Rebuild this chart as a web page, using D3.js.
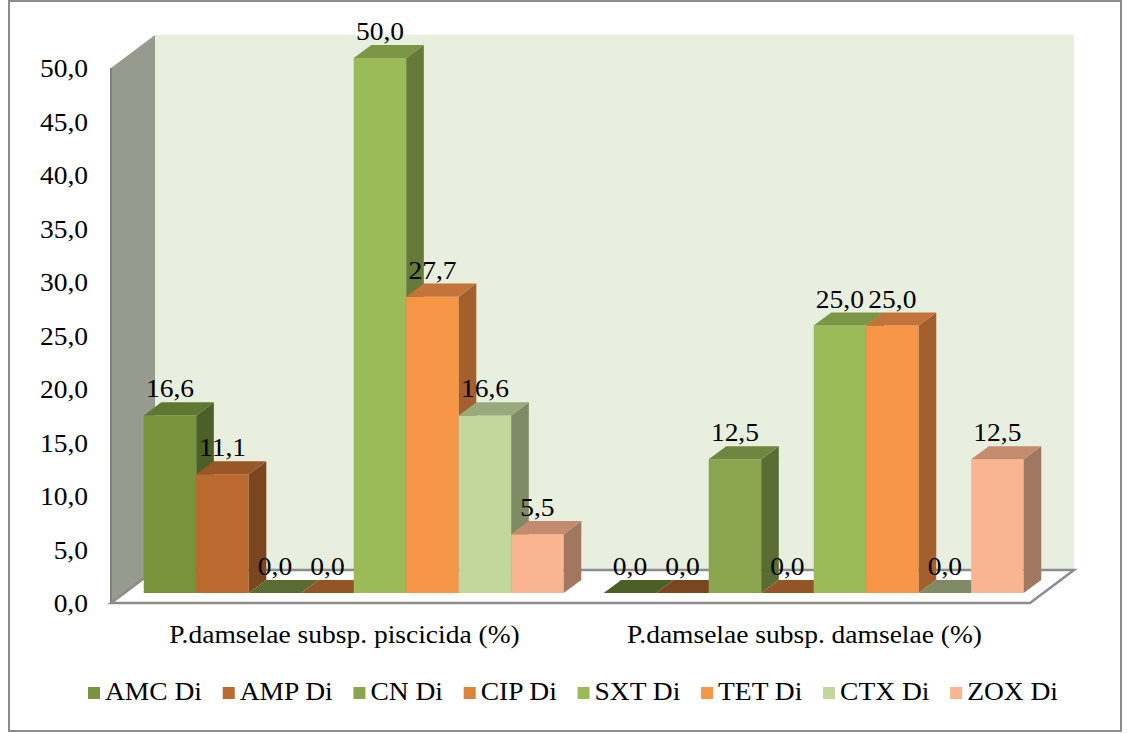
<!DOCTYPE html>
<html>
<head>
<meta charset="utf-8">
<script src="https://cdn.jsdelivr.net/npm/d3@7"></script>
<style>
  html, body { margin: 0; padding: 0; background: #ffffff; }
  svg { display: block; }
</style>
</head>
<body>
<svg id="chart" width="1128" height="733"></svg>
<script>
// Resistance share per antibiotic for the two subspecies
const categories = ["P.damselae subsp. piscicida (%)", "P.damselae subsp. damselae (%)"];
const seriesNames = ["AMC Di", "AMP Di", "CN Di", "CIP Di", "SXT Di", "TET Di", "CTX Di", "ZOX Di"];
const piscicidaValues = [16.6, 11.1, 0.0, 0.0, 50.0, 27.7, 16.6, 5.5];
const damselaeValues = [0.0, 0.0, 12.5, 0.0, 25.0, 25.0, 0.0, 12.5];
const yTicks = [0, 5, 10, 15, 20, 25, 30, 35, 40, 45, 50];

// front / top / side face colours for each series
const frontColors = ["#77933c", "#bb6b2f", "#8aa54e", "#dc8439", "#9bbb59", "#f79646", "#c3d69b", "#fab48f"];
const topColors   = ["#5f7831", "#9a5626", "#6f8640", "#b3692d", "#7a9646", "#c4733a", "#9aab7b", "#c48b6e"];
const sideColors  = ["#4b5f27", "#7a461f", "#5a6c33", "#935526", "#657a39", "#a35f2c", "#7e8b64", "#a07760"];

const values = [piscicidaValues, damselaeValues];
const FONT = "Liberation Serif, Times New Roman, serif";
const FS = 25;
const SX = 1.1; // glyphs are set slightly wide

const svg = d3.select("#chart");
const fmt = v => d3.format(".1f")(v).replace(".", ",");
const place = (x, y) => `translate(${x},${y}) scale(${SX},1)`;
const styleText = sel => sel.style("font-family", FONT).attr("font-size", FS).attr("fill", "#000");

// outer frame
svg.append("rect")
  .attr("x", 9).attr("y", 1).attr("width", 1112).attr("height", 730)
  .attr("fill", "#fff").attr("stroke", "#8c8c8c").attr("stroke-width", 2);

// 3-D box: front plane x-range / value scale, depth offset (oblique projection)
const x0 = 111, x1 = 1030;
const DX = 44, DY = 33;
const y = d3.scaleLinear().domain([0, 50]).range([603, 68]);
const xCat = d3.scaleBand().domain(categories).range([x0, x1])
  .paddingInner(0.087).paddingOuter(0.0425);
const xSer = d3.scaleBand().domain(seriesNames).range([0, xCat.bandwidth()]).padding(0);

const P = (px, v, d) => [px + d * DX, y(v) - d * DY];
const poly = pts => "M" + pts.map(p => p.join(",")).join("L") + "Z";

// back wall
svg.append("path")
  .attr("d", poly([P(x0, 0, 1), P(x0, 50, 1), P(x1, 50, 1), P(x1, 0, 1)]))
  .attr("fill", "#e8efdf");

// side wall
svg.append("path")
  .attr("d", poly([P(x0, 0, 0), P(x0, 50, 0), P(x0, 50, 1), P(x0, 0, 1)]))
  .attr("fill", "#979a8e");
svg.append("line")
  .attr("x1", x0).attr("x2", x0).attr("y1", y(50)).attr("y2", y(0))
  .attr("stroke", "#7f8178").attr("stroke-width", 2);

// floor
svg.append("path")
  .attr("d", poly([P(x0, 0, 0), P(x0, 0, 1), P(x1, 0, 1), P(x1, 0, 0)]))
  .attr("fill", "#ffffff").attr("stroke", "#8c8c8c").attr("stroke-width", 2.5)
  .attr("stroke-linejoin", "miter");

// value axis labels
svg.append("g").selectAll("text").data(yTicks).join("text")
  .attr("transform", d => place(88, y(d) + 9))
  .attr("text-anchor", "end")
  .call(styleText)
  .text(fmt);

// bars (left to right so each front face hides its neighbour's side)
const dFront = 0.3, dBack = 0.7;
const barLayer = svg.append("g");
const labelLayer = svg.append("g");
categories.forEach((cat, ci) => {
  seriesNames.forEach((s, si) => {
    const v = values[ci][si];
    const xl = xCat(cat) + xSer(s);
    const xr = xl + xSer.bandwidth();
    const g = barLayer.append("g");
    if (v > 0) {
      g.append("path")
        .attr("d", poly([P(xl, 0, dFront), P(xl, v, dFront), P(xr, v, dFront), P(xr, 0, dFront)]))
        .attr("fill", frontColors[si]);
      g.append("path")
        .attr("d", poly([P(xr, 0, dFront), P(xr, v, dFront), P(xr, v, dBack), P(xr, 0, dBack)]))
        .attr("fill", sideColors[si]);
    }
    g.append("path")
      .attr("d", poly([P(xl, v, dFront), P(xl, v, dBack), P(xr, v, dBack), P(xr, v, dFront)]))
      .attr("fill", v > 0 ? topColors[si] : sideColors[si]);

    const top = P((xl + xr) / 2, v, dFront);
    labelLayer.append("text")
      .attr("transform", place(top[0], top[1] - 18))
      .attr("text-anchor", "middle")
      .call(styleText)
      .text(fmt(v));
  });
});

// category labels
svg.append("g").selectAll("text").data(categories).join("text")
  .attr("transform", d => place(xCat(d) + xCat.bandwidth() / 2 + 4, 643))
  .attr("text-anchor", "middle")
  .call(styleText)
  .text(d => d);

// legend
const legend = svg.append("g");
const items = legend.selectAll("g").data(seriesNames).join("g");
items.append("rect").attr("width", 12).attr("height", 12).attr("y", -13)
  .attr("fill", (d, i) => frontColors[i]);
items.append("text").attr("transform", place(17, 0))
  .call(styleText)
  .text(d => d);
const widths = items.nodes().map(n => 17 + SX * d3.select(n).select("text").node().getComputedTextLength());
const legendLeft = 88, legendRight = 1058;
const gap = (legendRight - legendLeft - d3.sum(widths)) / (widths.length - 1);
let start = legendLeft;
items.attr("transform", (d, i) => {
  const t = `translate(${start},700)`;
  start += widths[i] + gap;
  return t;
});
</script>
</body>
</html>
